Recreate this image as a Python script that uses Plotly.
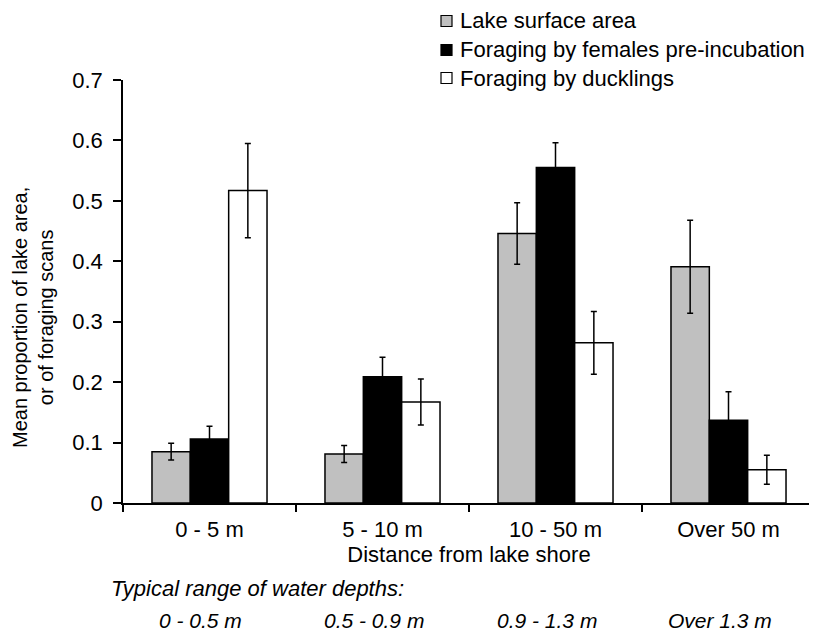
import plotly.graph_objects as go

categories = ["0 - 5 m", "5 - 10 m", "10 - 50 m", "Over 50 m"]
depths = ["0 - 0.5 m", "0.5 - 0.9 m", "0.9 - 1.3 m", "Over 1.3 m"]
y_ticks = [0, 0.1, 0.2, 0.3, 0.4, 0.5, 0.6, 0.7]
y_tick_text = ["0", "0.1", "0.2", "0.3", "0.4", "0.5", "0.6", "0.7"]

lake_area = [0.085, 0.081, 0.446, 0.391]
lake_area_err = [0.014, 0.014, 0.051, 0.077]
females = [0.106, 0.209, 0.555, 0.137]
females_err = [0.021, 0.032, 0.041, 0.047]
ducklings = [0.517, 0.167, 0.265, 0.055]
ducklings_err = [0.078, 0.038, 0.052, 0.024]

series = [
    ("Lake surface area", lake_area, lake_area_err, "#c0c0c0"),
    ("Foraging by females pre-incubation", females, females_err, "#000000"),
    ("Foraging by ducklings", ducklings, ducklings_err, "#ffffff"),
]

FONT = "Liberation Sans, Arial, sans-serif"
W, H = 809, 627
L, R, T, B = 115, 2, 72, 132
PW, PH = W - L - R, H - T - B

fig = go.Figure()
for name, vals, errs, color in series:
    fig.add_trace(go.Bar(
        name=name, x=categories, y=vals, showlegend=False,
        marker=dict(color=color, line=dict(color="black", width=1.5)),
        error_y=dict(type="data", array=errs, visible=True, color="black",
                     thickness=1.5, width=3),
    ))

# legend drawn as shapes + annotations (figure pixel positions converted to paper)
def px_x(x):
    return (x - L) / PW

def px_y(y):
    return (H - B - y) / PH

leg_rows = [13, 42, 70]
for (name, _, _, color), yc in zip(series, leg_rows):
    fig.add_shape(type="rect", xref="paper", yref="paper",
                  x0=px_x(433), x1=px_x(444), y0=px_y(yc + 5.5), y1=px_y(yc - 5.5),
                  fillcolor=color, line=dict(color="black", width=1.2))
    fig.add_annotation(text=name, xref="paper", yref="paper",
                       x=px_x(450), y=px_y(yc), xanchor="left", yanchor="middle",
                       showarrow=False, font=dict(size=22))

fig.update_layout(
    width=W, height=H,
    margin=dict(l=L, r=R, t=T, b=B, autoexpand=False),
    paper_bgcolor="white", plot_bgcolor="white",
    barmode="group", bargap=0.335, bargroupgap=0,
    font=dict(family=FONT, size=22, color="black"),
    xaxis=dict(showline=True, linecolor="black", linewidth=1.5,
               ticks="outside", ticklen=7, tickcolor="black", tickwidth=1.5,
               tickson="boundaries", ticklabelstandoff=6,
               title=dict(text="Distance from lake shore", standoff=4,
                          font=dict(size=22))),
    yaxis=dict(range=[0, 0.7], tickvals=y_ticks, ticktext=y_tick_text,
               showline=True, linecolor="black", linewidth=1.5,
               ticks="outside", ticklen=8, tickcolor="black", tickwidth=1.5,
               showgrid=False, zeroline=False, ticklabelstandoff=6),
)

fig.add_annotation(text="Mean proportion of lake area,<br>or of foraging scans",
                   xref="paper", yref="paper", x=px_x(25), y=px_y(310),
                   xanchor="center", yanchor="middle", textangle=-90,
                   showarrow=False, font=dict(size=20))

fig.add_annotation(text="<i>Typical range of water depths:</i>", xref="paper", yref="paper",
                   x=px_x(101), y=px_y(580), xanchor="left", yanchor="middle",
                   showarrow=False, font=dict(size=22))
for i, d in enumerate(depths):
    fig.add_annotation(text=f"<i>{d}</i>", xref="x", yref="paper",
                       x=categories[i], xshift=-9, y=px_y(612), xanchor="center",
                       yanchor="middle", showarrow=False, font=dict(size=21))

fig.write_html("out.html")
